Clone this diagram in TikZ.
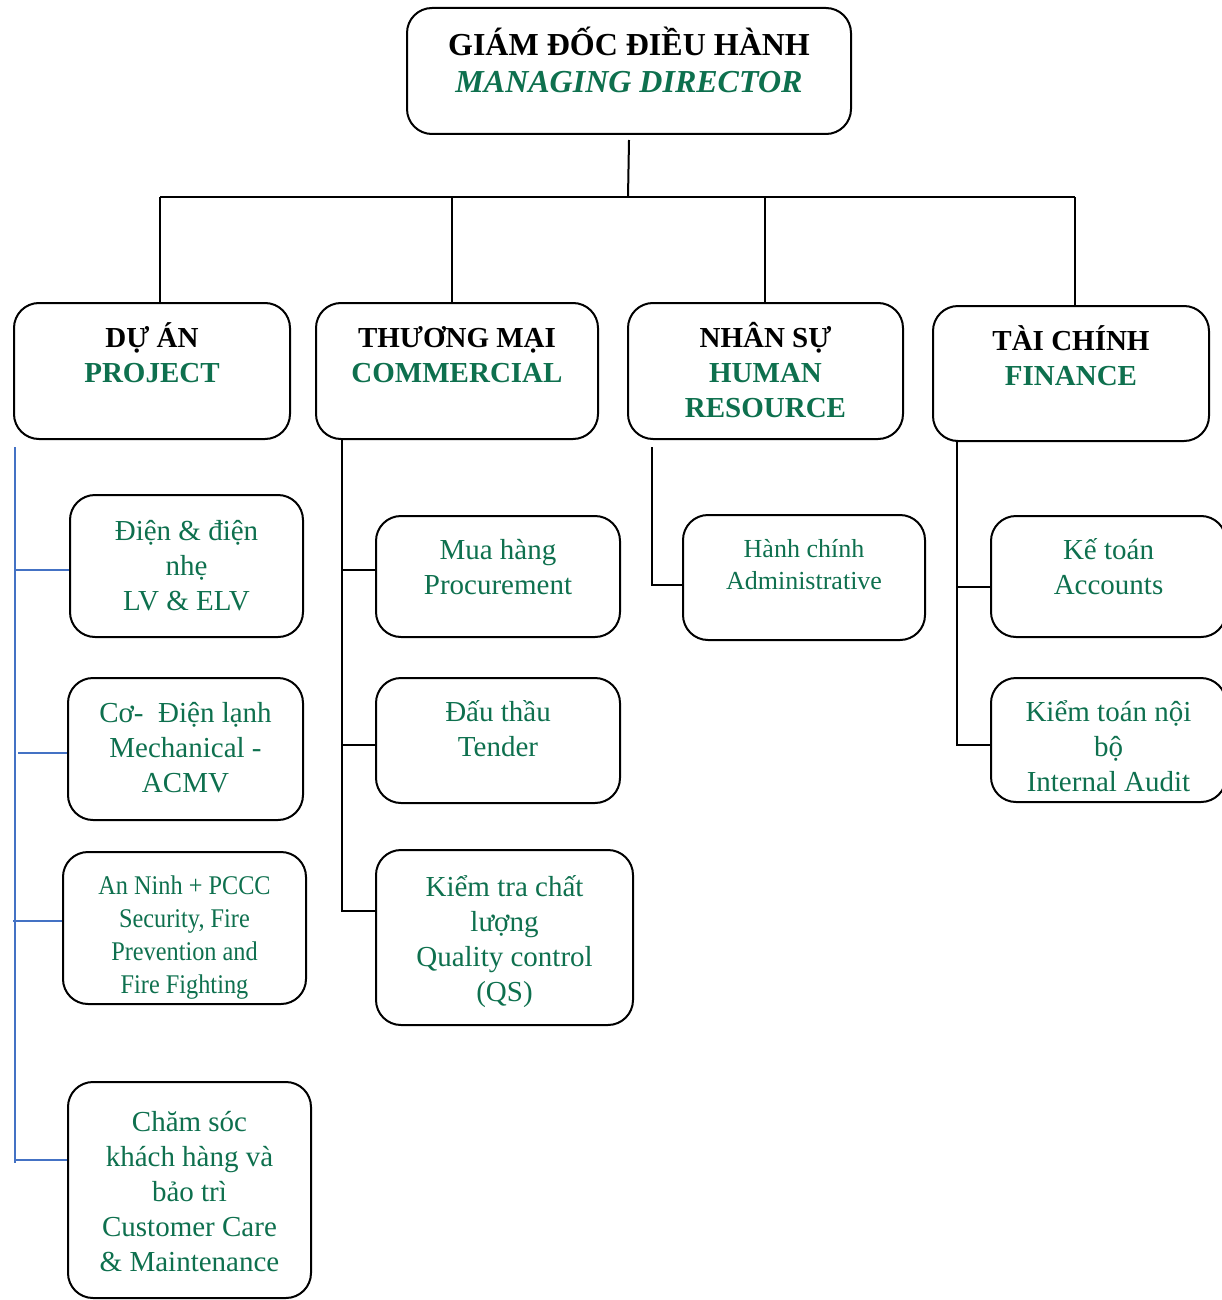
\documentclass[tikz,border=0pt]{standalone}
\usepackage{fontspec}
\setmainfont{Liberation Serif}
\newfontfamily\condfont[FakeStretch=0.9]{Liberation Serif}
\definecolor{dgreen}{RGB}{14,112,78}
\definecolor{lblue}{RGB}{68,114,196}
\begin{document}
\begin{tikzpicture}[x=1pt,y=-1pt,
  box/.style={draw, line width=2pt, rounded corners=25pt, inner sep=0pt},
  tx/.style={align=center, inner sep=0pt, anchor=base, text=dgreen, font=\fontsize{29}{35}\selectfont},
  ttl/.style={align=center, inner sep=0pt, anchor=base, font=\fontsize{29}{35}\selectfont\bfseries},
  conn/.style={line width=2pt},
  bconn/.style={line width=1.5pt, draw=lblue}]
\useasboundingbox (0,0) rectangle (1222,1300);
% boxes
\node[box, minimum width=444pt, minimum height=126pt] (md) at (629,71) {};
\node[box, minimum width=276pt, minimum height=136pt] (proj) at (152,371) {};
\node[box, minimum width=282pt, minimum height=136pt] (comm) at (457,371) {};
\node[box, minimum width=275pt, minimum height=136pt] (hr) at (765.5,371) {};
\node[box, minimum width=276pt, minimum height=135pt] (fin) at (1071,373.5) {};
\node[box, minimum width=233pt, minimum height=142pt] (p1) at (186.5,566) {};
\node[box, minimum width=235pt, minimum height=142pt] (p2) at (185.5,749) {};
\node[box, minimum width=243pt, minimum height=152pt] (p3) at (184.5,928) {};
\node[box, minimum width=243pt, minimum height=216pt] (p4) at (189.5,1190) {};
\node[box, minimum width=244pt, minimum height=121pt] (c1) at (498,576.5) {};
\node[box, minimum width=244pt, minimum height=125pt] (c2) at (498,740.5) {};
\node[box, minimum width=257pt, minimum height=175pt] (c3) at (504.5,937.5) {};
\node[box, minimum width=242pt, minimum height=125pt] (h1) at (804,577.5) {};
\node[box, minimum width=235pt, minimum height=121pt] (f1) at (1108.5,576.5) {};
\node[box, minimum width=235pt, minimum height=124pt] (f2) at (1108.5,740) {};
% texts (anchor = baseline of last line)
\node[ttl, font=\fontsize{32}{37}\selectfont\bfseries] (tmd) at (629,93) {GIÁM ĐỐC ĐIỀU HÀNH\\\textcolor{dgreen}{\itshape MANAGING DIRECTOR}};
\node[ttl] (tproj) at (152,382) {DỰ ÁN\\\textcolor{dgreen}{PROJECT}};
\node[ttl] (tcomm) at (457,382) {THƯƠNG MẠI\\\textcolor{dgreen}{COMMERCIAL}};
\node[ttl] (thr) at (765.5,417) {NHÂN SỰ\\\textcolor{dgreen}{HUMAN}\\\textcolor{dgreen}{RESOURCE}};
\node[ttl] (tfin) at (1071,385) {TÀI CHÍNH\\\textcolor{dgreen}{FINANCE}};
\node[tx] (tp1) at (186.5,610) {Điện \& điện\\nhẹ\\LV \& ELV};
\node[tx] (tp2) at (185.5,792) {Cơ-\ \ Điện lạnh\\Mechanical -\\ACMV};
\node[tx, font=\fontsize{27}{33}\condfont] (tp3) at (184.5,993) {An Ninh + PCCC\\Security, Fire\\Prevention and\\Fire Fighting};
\node[tx] (tp4) at (189.5,1271) {Chăm sóc\\khách hàng và\\bảo trì\\Customer Care\\\& Maintenance};
\node[tx] (tc1) at (498,594) {Mua hàng\\Procurement};
\node[tx] (tc2) at (498,756) {Đấu thầu\\Tender};
\node[tx] (tc3) at (504.5,1001) {Kiểm tra chất\\lượng\\Quality control\\(QS)};
\node[tx, font=\fontsize{26}{32}\selectfont] (th1) at (804,589) {Hành chính\\Administrative};
\node[tx] (tf1) at (1108.5,594) {Kế toán\\Accounts};
\node[tx] (tf2) at (1108.5,791) {Kiểm toán nội\\bộ\\Internal Audit};
% top tree
\coordinate (j0) at (628,197);
\coordinate (bL) at (160,197);
\coordinate (bR) at (1075,197);
\coordinate (b2) at (452,197);
\coordinate (b3) at (765,197);
\draw[conn] ([yshift=-5pt]md.south) -- (j0);
\draw[conn] (bL) -- (bR);
\draw[conn] (bL) -- (bL |- proj.north);
\draw[conn] (b2) -- (b2 |- comm.north);
\draw[conn] (b3) -- (b3 |- hr.north);
\draw[conn] (bR) -- (bR |- fin.north);
% project column
\coordinate (pT) at (15,447);
\coordinate (pB) at (15,1163);
\draw[bconn] (pT) -- (pB);
\coordinate (pb1) at (15,570);
\coordinate (pb2) at (18,753);
\coordinate (pb3) at (13,921);
\coordinate (pb4) at (15,1160);
\draw[bconn] (pb1) -- (pb1 -| p1.west);
\draw[bconn] (pb2) -- (pb2 -| p2.west);
\draw[bconn] (pb3) -- (pb3 -| p3.west);
\draw[bconn] (pb4) -- (pb4 -| p4.west);
% commercial column
\coordinate (cT) at (342,439);
\coordinate (cb1) at (342,570);
\coordinate (cb2) at (342,745);
\coordinate (cb3) at (342,911);
\draw[conn] (cT) -- (cb3) -- (cb3 -| c3.west);
\draw[conn] (cb1) -- (cb1 -| c1.west);
\draw[conn] (cb2) -- (cb2 -| c2.west);
% HR column
\coordinate (hT) at (652,447);
\coordinate (hb1) at (652,585);
\draw[conn] (hT) -- (hb1) -- (hb1 -| h1.west);
% finance column
\coordinate (fT) at (957,441);
\coordinate (fb1) at (957,587);
\coordinate (fb2) at (957,745);
\draw[conn] (fT) -- (fb2) -- (fb2 -| f2.west);
\draw[conn] (fb1) -- (fb1 -| f1.west);
\end{tikzpicture}
\end{document}
